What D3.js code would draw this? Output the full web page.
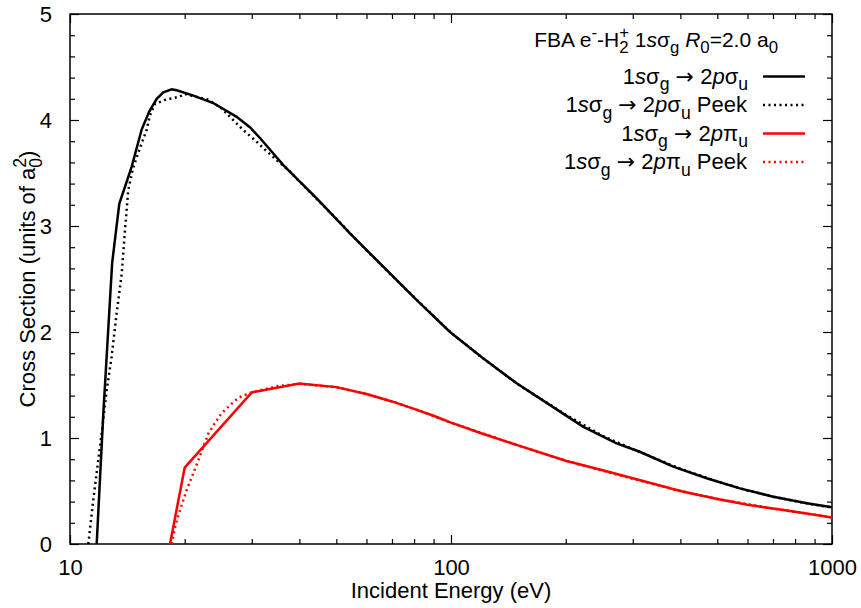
<!DOCTYPE html>
<html lang="en">
<head>
    <meta charset="UTF-8">
    <title>FBA e-H2+ cross sections</title>
    <style>
        body {
            margin: 0;
            background: #fff;
        }
        svg text {
            font-family: 'Liberation Sans', Arial, sans-serif;
            fill: #000;
        }
    </style>
    <script src="https://d3js.org/d3.v7.min.js"></script>
</head>
<body>
    <div id="chart"></div>

    <script>
        // 1s sigma_g -> 2p sigma_u (FBA)
        const energySigma = [11.75, 12.23, 12.9, 13.47, 14.52, 15.42, 16.14, 16.89, 17.58, 18.49, 19.06, 21.07, 23.77, 27.38, 29.7, 31.52, 36.3, 44.4, 54.3, 66.4, 81.3, 99.4, 121.6, 148.7, 182, 222, 272, 313, 383, 469, 573, 701, 859, 1000];
        const csSigma = [0, 1.23, 2.65, 3.21, 3.56, 3.91, 4.08, 4.20, 4.26, 4.29, 4.28, 4.23, 4.16, 4.03, 3.93, 3.83, 3.575, 3.26, 2.93, 2.616, 2.30, 2.00, 1.75, 1.516, 1.31, 1.107, 0.95, 0.87, 0.73, 0.62, 0.525, 0.446, 0.384, 0.346];

        // 1s sigma_g -> 2p sigma_u (Peek)
        const energySigmaPeek = [11.17, 11.51, 11.86, 12.11, 12.48, 12.86, 13.26, 13.67, 13.94, 14.22, 14.6, 15.1, 15.9, 16.2, 16.7, 17.76, 18.3, 19.4, 20, 23.1, 25, 28.2, 30.9, 32.5, 34.9, 37.4, 40, 50, 60, 70, 80, 90, 100, 120, 150, 200, 250, 300, 400, 500, 600, 700, 800, 900, 1000];
        const csSigmaPeek = [0, 0.415, 0.79, 1.044, 1.45, 1.767, 2.18, 2.55, 2.96, 3.34, 3.53, 3.69, 3.91, 4.04, 4.15, 4.19, 4.20, 4.22, 4.245, 4.19, 4.11, 3.92, 3.795, 3.72, 3.62, 3.53, 3.42, 3.07, 2.77, 2.53, 2.33, 2.15, 1.995, 1.765, 1.505, 1.22, 1.02, 0.895, 0.71, 0.59, 0.505, 0.447, 0.405, 0.37, 0.345];

        // 1s sigma_g -> 2p pi_u (FBA)
        const energyPi = [18.3, 20, 30, 40, 50, 60, 70, 80, 90, 100, 120, 150, 200, 250, 300, 400, 500, 600, 700, 800, 900, 1000];
        const csPi = [0, 0.72, 1.43, 1.515, 1.48, 1.415, 1.345, 1.275, 1.21, 1.145, 1.045, 0.93, 0.785, 0.695, 0.62, 0.5, 0.425, 0.37, 0.335, 0.305, 0.275, 0.25];

        // 1s sigma_g -> 2p pi_u (Peek)
        const energyPiPeek = [18.49, 18.88, 19.44, 20.24, 21.07, 21.72, 22.4, 23.1, 24.0, 25.0, 26.3, 27.7, 28.8, 30, 35, 40, 50, 60, 70, 80, 100, 150, 200, 300, 400, 500, 700, 1000];
        const csPiPeek = [0, 0.163, 0.32, 0.51, 0.667, 0.79, 0.918, 1.044, 1.14, 1.233, 1.31, 1.38, 1.406, 1.43, 1.49, 1.51, 1.48, 1.415, 1.345, 1.275, 1.145, 0.93, 0.785, 0.615, 0.5, 0.425, 0.335, 0.25];

        const xTicks = [10, 100, 1000];
        const yTicks = [0, 1, 2, 3, 4, 5];

        const width = 861;
        const height = 608;
        const margin = { top: 14, right: 29, bottom: 64, left: 70 };
        const fontSize = 22;
        const titleSize = 21;

        const svg = d3.select("#chart").append("svg")
            .attr("width", width)
            .attr("height", height);

        const x = d3.scaleLog()
            .domain([10, 1000])
            .range([margin.left, width - margin.right]);

        const y = d3.scaleLinear()
            .domain([0, 5])
            .range([height - margin.bottom, margin.top]);

        svg.append("defs").append("clipPath")
            .attr("id", "plot-clip")
            .append("rect")
            .attr("x", margin.left)
            .attr("y", margin.top)
            .attr("width", width - margin.left - margin.right)
            .attr("height", height - margin.top - margin.bottom);

        // minor ticks
        const xMinor = [];
        for (let d = 10; d < 1000; d *= 10) {
            for (let k = 2; k <= 9; k++) xMinor.push(d * k);
        }
        const yMinor = d3.range(0, 5.001, 0.2).filter(v => Math.abs(v - Math.round(v)) > 1e-6);

        // axes: bottom/top mirrored, left/right mirrored, ticks inside
        const axisBottom = d3.axisBottom(x).tickValues(xTicks).tickSize(-9).tickPadding(15).tickFormat(d3.format("d"));
        const axisTop = d3.axisTop(x).tickValues(xTicks).tickSize(-9).tickFormat("");
        const axisLeft = d3.axisLeft(y).tickValues(yTicks).tickSize(-9).tickPadding(18).tickFormat(d3.format("d"));
        const axisRight = d3.axisRight(y).tickValues(yTicks).tickSize(-9).tickFormat("");

        const minorBottom = d3.axisBottom(x).tickValues(xMinor).tickSize(-5).tickFormat("");
        const minorTop = d3.axisTop(x).tickValues(xMinor).tickSize(-5).tickFormat("");
        const minorLeft = d3.axisLeft(y).tickValues(yMinor).tickSize(-5).tickFormat("");
        const minorRight = d3.axisRight(y).tickValues(yMinor).tickSize(-5).tickFormat("");

        const bottomY = height - margin.bottom;
        const rightX = width - margin.right;

        [[axisBottom, `translate(0,${bottomY})`], [minorBottom, `translate(0,${bottomY})`],
         [axisTop, `translate(0,${margin.top})`], [minorTop, `translate(0,${margin.top})`],
         [axisLeft, `translate(${margin.left},0)`], [minorLeft, `translate(${margin.left},0)`],
         [axisRight, `translate(${rightX},0)`], [minorRight, `translate(${rightX},0)`]].forEach(([ax, tr]) => {
            const g = svg.append("g").attr("transform", tr).call(ax);
            g.select(".domain").remove();
            g.selectAll(".tick line").attr("stroke", "#000").attr("stroke-width", 1.2);
            g.selectAll(".tick text")
                .style("font-family", "'Liberation Sans', Arial, sans-serif")
                .style("font-size", fontSize + "px")
                .attr("fill", "#000");
        });

        // border
        svg.append("rect")
            .attr("x", margin.left)
            .attr("y", margin.top)
            .attr("width", rightX - margin.left)
            .attr("height", bottomY - margin.top)
            .attr("fill", "none")
            .attr("stroke", "#000")
            .attr("stroke-width", 1.5);

        // curves
        const line = d3.line()
            .x(d => x(d[0]))
            .y(d => y(d[1]));

        const series = [
            { e: energySigma, v: csSigma, color: "#000", dash: null },
            { e: energySigmaPeek, v: csSigmaPeek, color: "#000", dash: "2,3.5" },
            { e: energyPi, v: csPi, color: "#ff0000", dash: null },
            { e: energyPiPeek, v: csPiPeek, color: "#ff0000", dash: "2,3.5" }
        ];

        const plot = svg.append("g").attr("clip-path", "url(#plot-clip)");
        series.forEach(s => {
            plot.append("path")
                .datum(d3.zip(s.e, s.v))
                .attr("d", line)
                .attr("fill", "none")
                .attr("stroke", s.color)
                .attr("stroke-width", 2.5)
                .attr("stroke-dasharray", s.dash);
        });

        // rich text helper (gnuplot-style enhanced text): sub / sup at 0.8 size
        function richText(sel, parts, size) {
            const small = size * 0.8;
            let shift = 0;
            parts.forEach(p => {
                const target = p.sub ? size * 0.3 : p.sup ? -size * 0.42 : 0;
                const t = sel.append("tspan")
                    .text(p.t)
                    .attr("dy", target - shift)
                    .style("font-size", (p.sub || p.sup ? small : size) + "px");
                if (p.i) t.style("font-style", "italic");
                if (p.sym) t.style("font-family", "'DejaVu Sans', sans-serif");
                if (p.dx) t.attr("dx", p.dx * small);
                shift = target;
            });
            return sel;
        }

        // place a text so that its box ends at xEnd (or is centred on it)
        function placeText(sel, xRef, mode) {
            sel.attr("x", 0);
            const b = sel.node().getBBox();
            const x0 = mode === "end" ? xRef - b.width - b.x : xRef - b.width / 2 - b.x;
            sel.attr("x", x0);
        }

        // axis titles
        svg.append("text")
            .attr("x", (margin.left + rightX) / 2)
            .attr("y", 598)
            .attr("text-anchor", "middle")
            .style("font-size", fontSize + "px")
            .text("Incident Energy (eV)");

        const yTitle = svg.append("text")
            .attr("transform", `translate(35,${(margin.top + bottomY) / 2}) rotate(-90)`)
            .attr("y", 0)
            .style("font-size", fontSize + "px");
        richText(yTitle, [
            { t: "Cross Section (units of a" },
            { t: "0", sub: true },
            { t: "2", sup: true, dx: -0.556 },
            { t: ")" }
        ], fontSize);
        placeText(yTitle, 0, "middle");

        // legend
        const legendTitle = svg.append("text")
            .attr("y", 47)
            .style("font-size", titleSize + "px");
        richText(legendTitle, [
            { t: "FBA e" },
            { t: "-", sup: true },
            { t: "-H" },
            { t: "2", sub: true },
            { t: "+", sup: true, dx: -0.556 },
            { t: " 1" },
            { t: "s", i: true },
            { t: "σ" },
            { t: "g", sub: true },
            { t: " " },
            { t: "R", i: true },
            { t: "0", sub: true },
            { t: "=2.0 a" },
            { t: "0", sub: true }
        ], titleSize);
        placeText(legendTitle, 778, "end");

        const legendLabels = [
            { final: "σ", peek: false },
            { final: "σ", peek: true },
            { final: "π", peek: false },
            { final: "π", peek: true }
        ];

        legendLabels.forEach((lab, i) => {
            const cy = 76.5 + i * 28.5;
            const txt = svg.append("text")
                .attr("y", cy + 7)
                .style("font-size", fontSize + "px");
            const parts = [
                { t: "1" }, { t: "s", i: true }, { t: "σ" }, { t: "g", sub: true },
                { t: " " }, { t: "→", sym: true }, { t: " 2" }, { t: "p", i: true }, { t: lab.final }, { t: "u", sub: true }
            ];
            if (lab.peek) parts.push({ t: " Peek" });
            richText(txt, parts, fontSize);
            placeText(txt, 748, "end");

            svg.append("line")
                .attr("x1", 763)
                .attr("x2", 805)
                .attr("y1", cy)
                .attr("y2", cy)
                .attr("stroke", series[i].color)
                .attr("stroke-width", 2.5)
                .attr("stroke-dasharray", series[i].dash);
        });
    </script>
</body>
</html>
